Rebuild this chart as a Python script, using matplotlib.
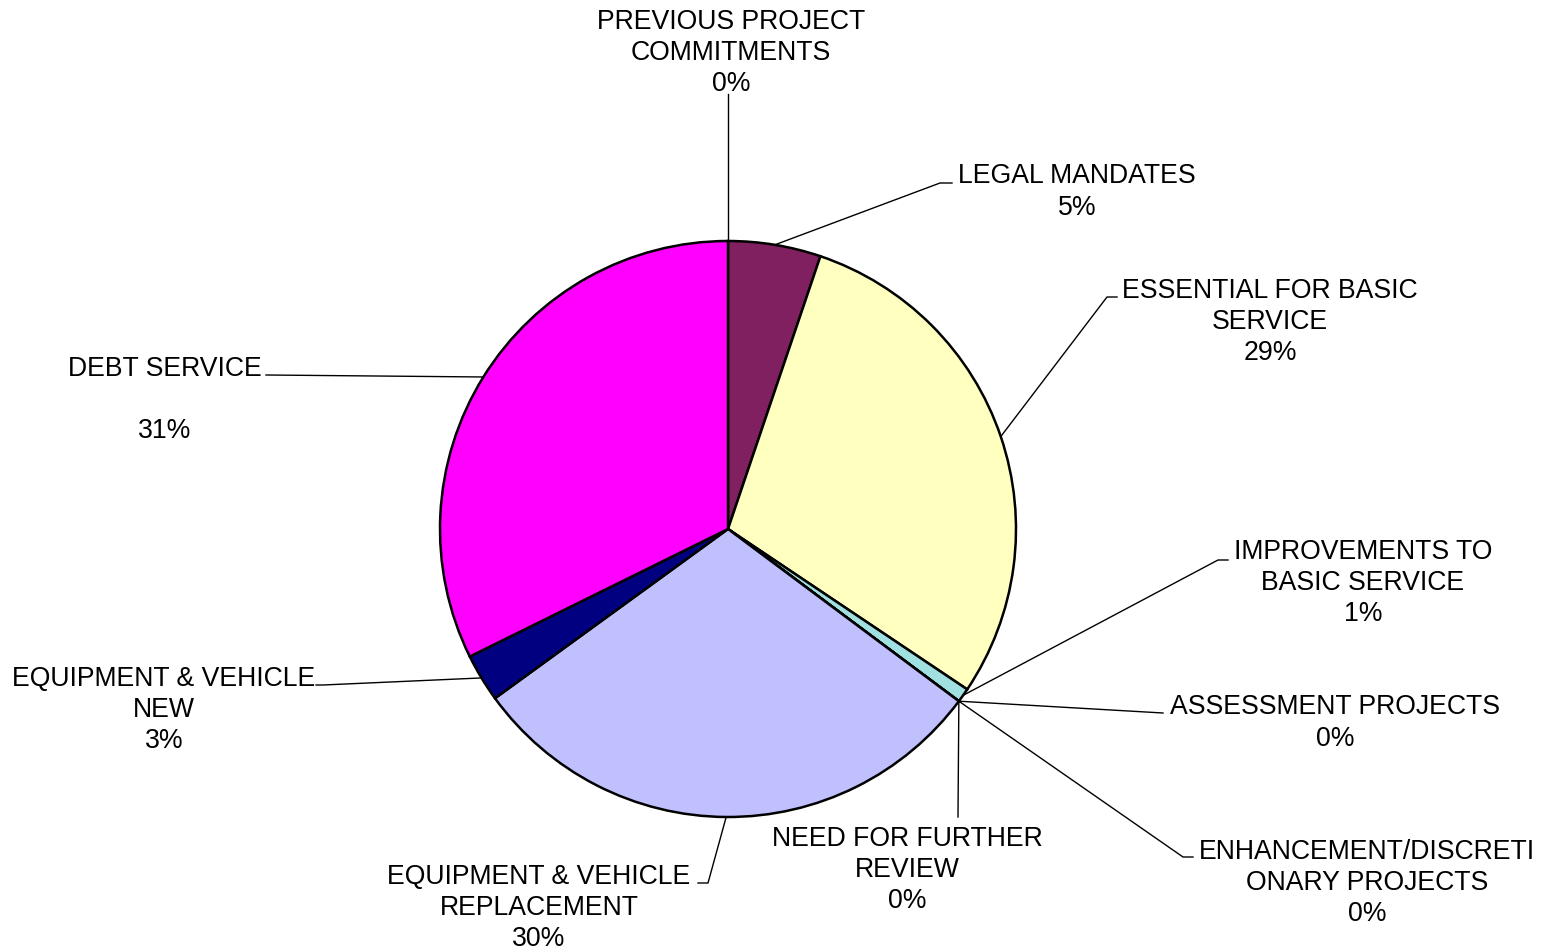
import numpy as np
import matplotlib.pyplot as plt

W, H = 1551, 953

names = ["PREVIOUS PROJECT\nCOMMITMENTS", "LEGAL MANDATES", "ESSENTIAL FOR BASIC\nSERVICE",
         "IMPROVEMENTS TO\nBASIC SERVICE", "ASSESSMENT PROJECTS", "ENHANCEMENT/DISCRETI\nONARY PROJECTS",
         "NEED FOR FURTHER\nREVIEW", "EQUIPMENT & VEHICLE\nREPLACEMENT", "EQUIPMENT & VEHICLE\nNEW",
         "DEBT SERVICE\n"]
shares = [0.0, 5.2, 29.2, 0.8, 0.0, 0.0, 0.0, 29.8, 2.7, 32.3]
pct_text = ["0%", "5%", "29%", "1%", "0%", "0%", "0%", "30%", "3%", "31%"]
colors = ["#FFFFFF", "#802060", "#FFFFC0", "#A0E0E0", "#FFFFFF", "#FFFFFF", "#FFFFFF",
          "#C0C0FF", "#000080", "#FF00FF"]

# layout (pixel coords, y down): label centre, leader bend, leader end
label_xy = [(731, 53), (1077, 192), (1270, 322), (1363, 583), (1335, 723), (1367, 883),
            (907, 870), (539, 908), (164, 710), (165, 400)]
leader = [[(728, 95)], [(940, 184), (952, 184)], [(1107, 298), (1117, 298)],
          [(1218, 561), (1228, 561)], [(1163, 714)], [(1183, 858), (1193, 858)],
          [(958, 818)], [(708, 884), (698, 884)], [(323, 686), (316, 686)], [(266, 376)]]

cx, cy, R = 728, 530, 288

fig = plt.figure(figsize=(W / 100, H / 100), dpi=100)
ax = fig.add_axes([0, 0, 1, 1])
wedges, _ = ax.pie(shares, colors=colors, startangle=90, counterclock=False,
                   center=(cx, H - cy), radius=R,
                   wedgeprops=dict(edgecolor="black", linewidth=1.8))
ax.set_xlim(0, W)
ax.set_ylim(0, H)
ax.set_aspect("equal")
ax.axis("off")

for w, name, pct, (tx, ty), pts in zip(wedges, names, pct_text, label_xy, leader):
    mid = np.deg2rad((w.theta1 + w.theta2) / 2)
    ax0 = cx + R * np.cos(mid)
    ay0 = (H - cy) + R * np.sin(mid)
    xs = [ax0] + [p[0] for p in pts]
    ys = [ay0] + [H - p[1] for p in pts]
    ax.plot(xs, ys, color="black", lw=1.0, zorder=0)
    ax.text(tx, H - ty, name + "\n" + pct, ha="center", va="center", ma="center",
            fontsize=19.2, family="Liberation Sans", linespacing=1.27)

fig.savefig("out.png", dpi=100)
